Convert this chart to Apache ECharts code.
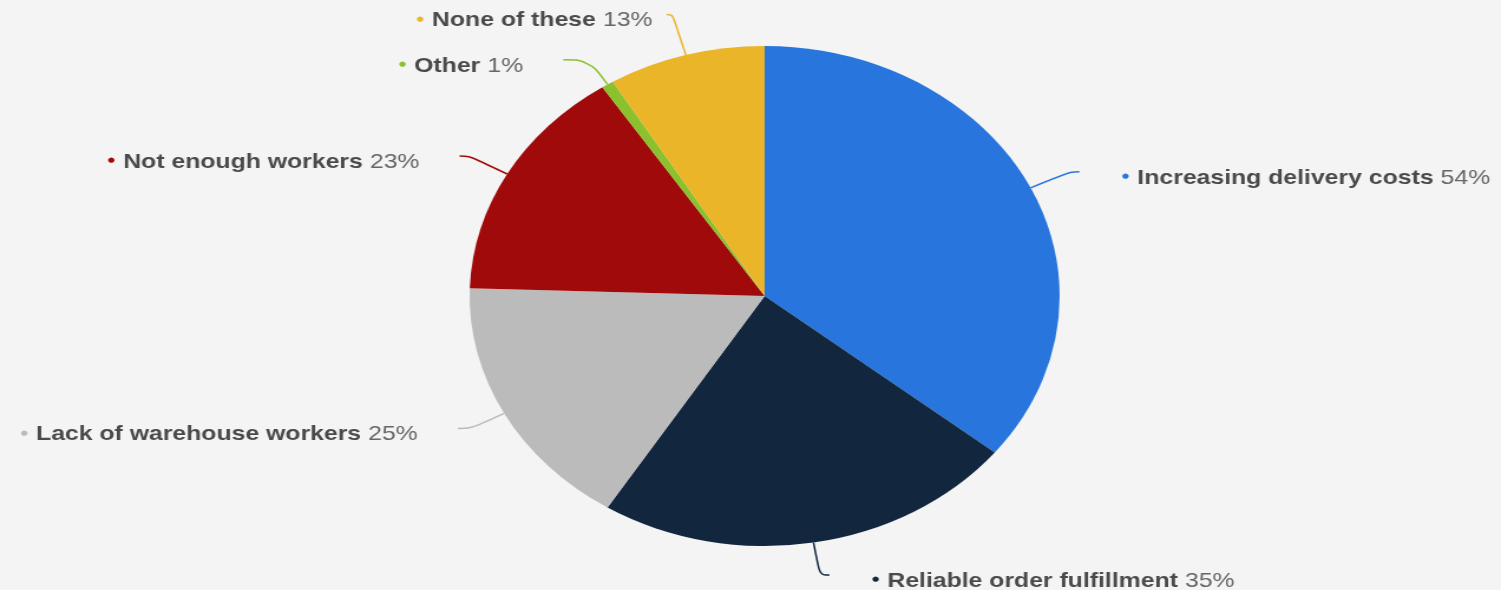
<!DOCTYPE html>
<html>
<head>
<meta charset="utf-8">
<script src="https://cdn.jsdelivr.net/npm/echarts@6/dist/echarts.min.js"></script>
<style>
html,body{margin:0;padding:0;background:#f4f4f4;overflow:hidden;}
#wrap{width:1501px;height:590px;overflow:hidden;position:relative;}
#chart{width:1272px;height:590px;transform:scaleX(1.18);transform-origin:0 0;position:absolute;left:0;top:0;}
</style>
</head>
<body>
<div id="wrap"><div id="chart"></div></div>
<script>
const categories = ['Increasing delivery costs','Reliable order fulfillment','Lack of warehouse workers','Not enough workers','Other','None of these'];
const values = [54, 35, 25, 23, 1, 13];
const colors = ['#2876dd','#12263d','#bbbbbb','#a10a0a','#8bc12d','#ebb52a'];
// label line styling per slice: [length, length2, distance]
const lineStyles = [[37,8,36],[33,8,36],[32,11,34],[37,8,34],[29,22,34],[42,5,12]];

const rich = {
  name:{fontFamily:'Liberation Sans, Arial, sans-serif',fontWeight:'bold',fontSize:21,color:'#4a4a4a'},
  pct:{fontFamily:'Liberation Sans, Arial, sans-serif',fontWeight:'normal',fontSize:21,color:'#666666',padding:[0,0,0,6]}
};
colors.forEach((c,i)=>{ rich['d'+i] = {color:c,fontSize:7,padding:[0,7,3,0],fontFamily:'DejaVu Sans'}; });

const data = categories.map((n,i)=>({
  name:n, value:values[i],
  itemStyle:{color:colors[i]},
  label:{distanceToLabelLine:lineStyles[i][2]},
  labelLine:{length:lineStyles[i][0],length2:lineStyles[i][1],lineStyle:{color:colors[i]}}
}));

const chart = echarts.init(document.getElementById('chart'));
chart.setOption({
  backgroundColor:'#f4f4f4',
  animation:false,
  series:[{
    type:'pie',
    center:[648,296],
    radius:250,
    startAngle:90,
    clockwise:true,
    avoidLabelOverlap:false,
    data:data,
    label:{
      show:true,
      position:'outside',
      overflow:'none',
      padding:[12,0,0,0],
      formatter:p=>'{d'+p.dataIndex+'|●}{name|'+p.name+'}{pct|'+values[p.dataIndex]+'%}',
      rich:rich
    },
    labelLine:{show:true,smooth:0.4,lineStyle:{width:1.5}},
    emphasis:{disabled:true}
  }]
});
</script>
</body>
</html>
